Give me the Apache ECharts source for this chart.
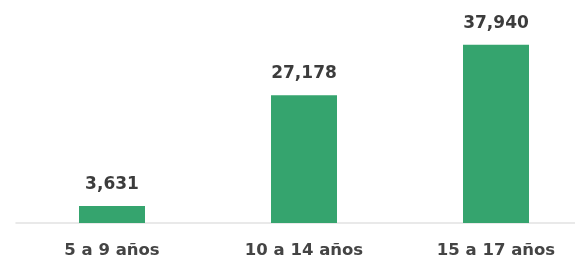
<!DOCTYPE html>
<html><head><meta charset="utf-8">
<script src="https://cdn.jsdelivr.net/npm/echarts@6/dist/echarts.min.js"></script>
<style>html,body{margin:0;padding:0;background:#fff}#c{width:575px;height:263px}</style>
</head><body><div id="c"></div>
<script>
const categories = ["5 a 9 años", "10 a 14 años", "15 a 17 años"];
const values = [3631, 27178, 37940];

const chart = echarts.init(document.getElementById('c'), null, {renderer: 'canvas'});
chart.setOption({
  animation: false,
  grid: {left: 16, width: 576, top: 35, bottom: 40, outerBoundsMode: 'none', containLabel: false},
  xAxis: {
    type: 'category',
    data: categories,
    axisLine: {lineStyle: {color: '#e2e2e2', width: 1.5}},
    axisTick: {show: false},
    axisLabel: {color: '#444', fontSize: 16.5, fontFamily: 'DejaVu Sans', fontWeight: 'bold', margin: 19}
  },
  yAxis: {type: 'value', min: 0, max: 40000, show: false},
  series: [{
    type: 'bar',
    data: values,
    barWidth: 66,
    itemStyle: {color: '#35a46e'},
    label: {
      show: true, position: 'top', distance: 13,
      color: '#3c3c3c', fontSize: 17, fontFamily: 'DejaVu Sans', fontWeight: 'bold',
      formatter: p => p.value.toLocaleString('en-US')
    }
  }]
});
</script></body></html>
